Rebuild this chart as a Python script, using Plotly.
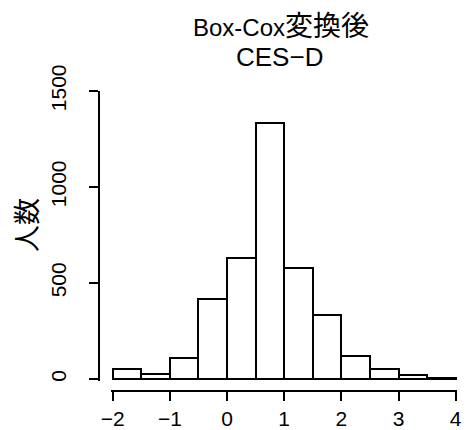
import plotly.graph_objects as go

# Data
bin_left = [-2.0, -1.5, -1.0, -0.5, 0.0, 0.5, 1.0, 1.5, 2.0, 2.5, 3.0, 3.5]
counts = [52, 28, 110, 418, 632, 1335, 579, 332, 121, 52, 22, 5]
bin_width = 0.5
x_ticks = [-2, -1, 0, 1, 2, 3, 4]
y_ticks = [0, 500, 1000, 1500]
title_latin = "Box-Cox"
title_cjk = "変換後"
title_line2 = "CES−D"
y_title = "人数"

W, H = 467, 430
FONT = "Liberation Sans, Arial, Helvetica, Noto Sans CJK JP, sans-serif"

fig = go.Figure()
fig.add_trace(go.Bar(
    x=bin_left, y=counts, width=bin_width, offset=0,
    marker=dict(color="white", line=dict(color="black", width=2)),
    showlegend=False, hoverinfo="skip",
))

def px_x(p):
    return p / W

def px_y(p):
    return (H - p) / H

fig.update_layout(
    width=W, height=H,
    margin=dict(l=0, r=0, t=0, b=0, pad=0, autoexpand=False),
    paper_bgcolor="white", plot_bgcolor="white",
    font=dict(family=FONT, color="black", size=21),
    bargap=0,
    xaxis=dict(
        range=[-2.03, 4.03], domain=[px_x(111.0), px_x(457.4)],
        anchor="free", position=px_y(391),
        showline=True, linecolor="black", linewidth=1.5,
        ticks="outside", ticklen=9, tickwidth=1.5, tickcolor="black",
        tickvals=x_ticks, showgrid=False, zeroline=False, automargin=False,
        tickfont=dict(size=21, family=FONT),
    ),
    yaxis=dict(
        range=[-8, 1500], domain=[px_y(380.5), px_y(91)],
        anchor="free", position=px_x(98.5),
        showline=True, linecolor="black", linewidth=1.5,
        ticks="outside", ticklen=9, tickwidth=1.5, tickcolor="black",
        tickvals=y_ticks, tickangle=-90, showgrid=False, zeroline=False, automargin=False,
        ticklabelstandoff=14,
        tickfont=dict(size=21, family=FONT),
    ),
    annotations=[
        dict(text=title_latin + '<span style="font-size:28px">' + title_cjk + '</span>',
             x=px_x(281), y=px_y(26), xref="paper", yref="paper",
             xanchor="center", yanchor="middle", showarrow=False,
             font=dict(size=24, family=FONT)),
        dict(text=title_line2, x=px_x(279), y=px_y(57), xref="paper", yref="paper",
             xanchor="center", yanchor="middle", showarrow=False,
             font=dict(size=26, family=FONT)),
        dict(text=y_title, x=px_x(28), y=px_y(225), xref="paper", yref="paper",
             xanchor="center", yanchor="middle", showarrow=False, textangle=-90,
             font=dict(size=27, family=FONT)),
    ],
)

fig.write_html("out.html", config={"displayModeBar": False},
               post_script="document.body.style.margin='0';")
